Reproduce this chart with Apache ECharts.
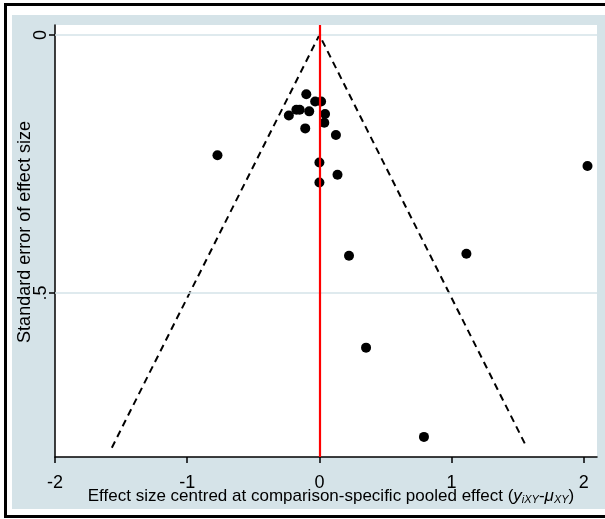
<!DOCTYPE html>
<html>
<head>
<meta charset="utf-8">
<script src="https://cdn.jsdelivr.net/npm/echarts@6.0.0/dist/echarts.min.js"></script>
<style>
  html, body { margin: 0; padding: 0; background: #ffffff; width: 605px; height: 519px; overflow: hidden; }
  #frame { position: absolute; left: 4px; top: 3px; width: 620px; height: 509px; border: 3px solid #000; border-right: none; }
  #panel { position: absolute; left: 12px; top: 15px; width: 593px; height: 494px; background: #d5e3e8; }
  #chart { position: absolute; left: 0; top: 0; width: 605px; height: 519px; }
</style>
</head>
<body>
<div id="frame"></div>
<div id="panel"></div>
<div id="chart"></div>
<script>
// ---- data ----
const xTicks = [-2, -1, 0, 1, 2];
const yTicks = [0, 0.5];
const yTickLabels = ['0', '.5'];

// effect size centred at comparison-specific pooled effect
const effect = [-0.099, -0.032, 0.013, -0.231, -0.174, -0.149, -0.077, 0.043, 0.037, -0.107,
                0.125, -0.771, 0.000, 0.137, 0.000, 2.028, 1.112, 0.224, 0.353, 0.791];
// standard error of effect size
const stdErr = [0.115, 0.129, 0.129, 0.156, 0.145, 0.145, 0.148, 0.153, 0.170, 0.181,
                0.194, 0.233, 0.247, 0.271, 0.286, 0.254, 0.424, 0.428, 0.606, 0.779];

// pseudo 95% confidence limits (funnel)
const funnelX = [-1.57, 0, 1.57];
const funnelY = [0.80, 0, 0.80];

const refLine = 0;

const points = effect.map((v, i) => [v, stdErr[i]]);
const funnel = funnelX.map((v, i) => [v, funnelY[i]]);

const chart = echarts.init(document.getElementById('chart'), null, { renderer: 'canvas' });
const font = 'Liberation Sans, Arial, sans-serif';

chart.setOption({
  animation: false,
  backgroundColor: 'transparent',
  grid: {
    left: 55, top: 25, width: 542, height: 432,
    containLabel: false,
    outerBoundsMode: 'none',
    show: true, backgroundColor: '#ffffff', borderWidth: 0
  },
  xAxis: {
    type: 'value',
    min: -2, max: 2.1,
    axisLine: { show: true, onZero: false, lineStyle: { color: '#000', width: 1.5 } },
    axisTick: { show: true, length: 6, customValues: xTicks, lineStyle: { color: '#000', width: 1.5 } },
    axisLabel: { customValues: xTicks, color: '#000', fontSize: 18, fontFamily: font, margin: 17,
                 formatter: v => String(v) },
    splitLine: { show: false },
    name: '{n|Effect size centred at comparison-specific pooled effect (}{i|y}{s|iXY}{n|-}{i|μ}{s|XY}{n|)}',
    nameLocation: 'middle',
    nameMoveOverlap: false,
    nameGap: 31,
    nameTextStyle: {
      padding: [0, 0, 0, 10],
      rich: {
        n: { fontSize: 17, fontFamily: font, color: '#000' },
        i: { fontSize: 17, fontFamily: font, fontStyle: 'italic', color: '#000' },
        s: { fontSize: 11, fontFamily: font, fontStyle: 'italic', color: '#000', padding: [6, 0, 0, 0] }
      }
    }
  },
  yAxis: {
    type: 'value',
    inverse: true,
    min: -0.0194, max: 0.818,
    axisLine: { show: true, onZero: false, lineStyle: { color: '#000', width: 1.5 } },
    axisTick: { show: true, length: 6, customValues: yTicks, lineStyle: { color: '#000', width: 1.5 } },
    axisLabel: { customValues: yTicks, color: '#000', fontSize: 18, fontFamily: font, rotate: 90, margin: 5,
                 formatter: v => yTickLabels[yTicks.indexOf(v)] },
    splitLine: { show: false },
    name: 'Standard error of effect size',
    nameLocation: 'middle',
    nameMoveOverlap: false,
    nameGap: 21,
    nameTextStyle: { fontSize: 18, fontFamily: font, color: '#000', padding: [0, 0, 0, 18] }
  },
  series: [
    {
      type: 'line',
      z: 1,
      data: [],
      silent: true,
      markLine: {
        silent: true, symbol: 'none', label: { show: false },
        lineStyle: { color: '#d5e3e8', width: 1.5, type: 'solid' },
        data: yTicks.map(v => ({ yAxis: v }))
      }
    },
    {
      type: 'line',
      z: 2,
      data: funnel,
      showSymbol: false,
      symbol: 'none',
      lineStyle: { color: '#000', width: 2, type: [7, 5] },
      markLine: {
        silent: true, symbol: 'none', label: { show: false },
        lineStyle: { color: '#ff0000', width: 2.2, type: 'solid' },
        data: [{ xAxis: refLine }]
      }
    },
    {
      type: 'scatter',
      z: 3,
      data: points,
      symbol: 'circle',
      symbolSize: 10,
      itemStyle: { color: '#000', opacity: 1 }
    }
  ]
});
</script>
</body>
</html>
